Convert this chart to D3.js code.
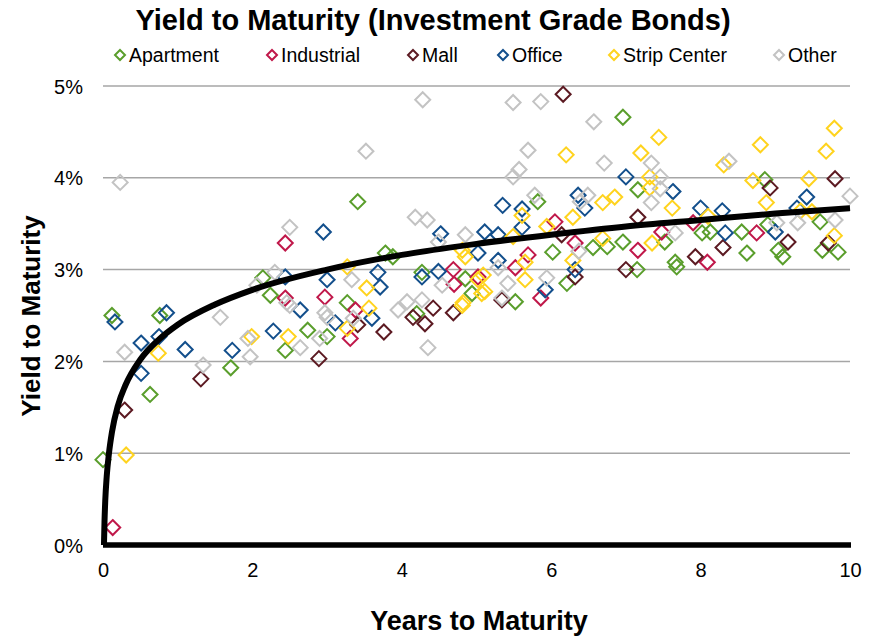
<!DOCTYPE html>
<meta charset="utf-8">
<style>
  body { margin: 0; background: #fff; }
  text { font-family: "Liberation Sans", Arial, sans-serif; fill: #000; }
  .grid line { stroke: #a6a6a6; stroke-width: 1.5px; }
  .dot { fill: none; stroke-width: 2px; }
</style>
<body>
<svg width="877" height="639"></svg>
<script src="https://d3js.org/d3.v7.min.js"></script>
<script>
// values: [years, yield %]
var apartment = [[0.0,0.93],[0.12,2.50],[0.63,1.64],[0.76,2.50],[1.71,1.93],[2.14,2.91],[2.24,2.72],[2.44,2.12],
  [2.74,2.34],[3.0,2.27],[3.27,2.64],[3.41,3.74],[3.78,3.18],[3.88,3.14],[4.2,2.52],[4.27,2.97],[4.85,2.9],[4.94,2.74],
  [5.52,2.65],[5.82,3.74],[6.02,3.19],[6.21,2.85],[6.56,3.24],[6.75,3.25],[6.96,4.66],[6.96,3.30],[7.15,3.0],[7.16,3.87],
  [7.52,3.30],[7.66,3.08],[7.68,3.03],[8.02,3.40],[8.13,3.41],[8.55,3.41],[8.62,3.18],[8.86,3.98],[8.9,3.49],[9.04,3.21],
  [9.1,3.14],[9.6,3.52],[9.63,3.21],[9.84,3.19]];
var industrial = [[0.13,0.19],[2.44,3.29],[2.44,2.69],[2.97,2.70],[3.31,2.25],[3.38,2.56],[4.69,3.0],[4.70,2.84],
  [5.02,2.92],[5.52,3.02],[5.69,3.16],[5.86,2.69],[6.05,3.52],[6.32,3.29],[7.16,3.21],[7.48,3.41],[7.9,3.51],[8.09,3.08],[8.75,3.40]];
var mall = [[0.29,1.47],[1.31,1.81],[2.89,2.03],[3.41,2.40],[3.76,2.32],[4.15,2.48],[4.31,2.41],[4.42,2.58],[4.69,2.53],
  [5.34,2.67],[6.14,3.38],[6.16,4.91],[6.32,2.92],[7.0,3.0],[7.16,3.57],[7.93,3.14],[8.3,3.24],[8.93,3.89],[9.17,3.30],
  [9.71,3.29],[9.8,3.99]];
var office = [[0.16,2.43],[0.51,2.20],[0.51,1.87],[0.75,2.27],[0.85,2.53],[1.1,2.13],[1.73,2.12],[2.28,2.33],[2.44,2.92],
  [2.64,2.56],[2.95,3.41],[3.0,2.89],[3.11,2.42],[3.6,2.47],[3.68,2.97],[3.71,2.81],[4.27,2.92],[4.49,2.98],[4.52,3.39],
  [5.02,3.18],[5.11,3.41],[5.29,3.38],[5.29,3.10],[5.35,3.70],[5.61,3.66],[5.61,3.46],[5.92,2.78],[6.32,3.0],[6.36,3.81],
  [6.45,3.67],[7.0,4.01],[7.63,3.85],[8.0,3.67],[8.29,3.64],[8.33,3.40],[9.0,3.41],[9.29,3.67],[9.42,3.79]];
var stripCenter = [[0.31,0.98],[0.74,2.09],[1.99,2.27],[2.48,2.27],[3.27,3.03],[3.27,2.36],[3.53,2.80],[3.56,2.58],
  [4.81,3.21],[4.81,2.61],[4.85,3.14],[4.82,2.64],[5.02,2.89],[5.07,2.74],[5.09,2.94],[5.11,2.76],[5.49,3.36],[5.61,3.59],
  [5.65,3.08],[5.65,2.89],[5.94,3.47],[6.2,4.25],[6.29,3.57],[6.29,3.10],[6.69,3.73],[6.69,3.34],[6.85,3.79],[7.2,4.27],
  [7.32,4.01],[7.32,3.89],[7.35,3.29],[7.44,4.44],[7.62,3.67],[8.1,3.58],[8.31,4.14],[8.7,3.97],[8.8,4.36],[8.88,3.73],
  [9.34,3.64],[9.45,3.99],[9.49,3.63],[9.68,4.29],[9.79,4.54],[9.79,3.37]];
var other = [[0.23,3.95],[0.29,2.10],[1.34,1.96],[1.57,2.48],[1.94,2.25],[1.97,2.05],[2.06,2.83],[2.30,2.97],[2.46,2.64],
  [2.5,3.46],[2.5,2.61],[2.64,2.15],[2.9,2.25],[2.97,2.53],[3.0,2.48],[3.33,2.89],[3.35,2.47],[3.52,4.29],[3.95,2.56],
  [4.07,2.65],[4.18,3.57],[4.27,2.67],[4.28,4.85],[4.34,3.54],[4.35,2.15],[4.49,3.30],[4.54,2.83],[4.85,3.38],[5.29,3.02],
  [5.34,2.69],[5.42,2.85],[5.49,4.82],[5.49,4.01],[5.57,4.09],[5.69,4.30],[5.78,3.81],[5.86,4.83],[5.94,2.91],[6.37,3.20],
  [6.39,3.74],[6.49,3.81],[6.57,4.61],[6.71,4.16],[7.34,4.16],[7.34,3.73],[7.46,4.01],[7.46,3.88],[7.66,3.40],[8.38,4.18],
  [9.02,3.51],[9.3,3.51],[9.8,3.54],[10.0,3.80]];

// trend curve
var trendX = [0.013,0.02,0.03,0.05,0.08,0.12,0.2,0.3,0.5,0.75,1,1.5,2,3,4,5,6,7,8,9,10];
var trendY = [0,0.25,0.48,0.75,1.0,1.23,1.52,1.74,2.02,2.24,2.40,2.62,2.78,3.0,3.16,3.28,3.38,3.47,3.54,3.61,3.67];

var seriesNames = ["Apartment", "Industrial", "Mall", "Office", "Strip Center", "Other"];
var seriesColors = ["#5a9e2c", "#c0184a", "#5c1a22", "#134f8c", "#ffd31e", "#c3c3c3"];
var seriesData = [apartment, industrial, mall, office, stripCenter, other];
var xTicks = [0, 2, 4, 6, 8, 10];
var yTicks = [0, 1, 2, 3, 4, 5];

var svg = d3.select("svg");
var x = d3.scaleLinear().domain([0, 10]).range([103, 850]);
var y = d3.scaleLinear().domain([0, 5]).range([545, 86]);

// gridlines
svg.append("g").attr("class", "grid")
  .selectAll("line").data(yTicks.slice(1)).enter().append("line")
  .attr("x1", x(0)).attr("x2", x(10))
  .attr("y1", function(d) { return y(d); }).attr("y2", function(d) { return y(d); });

// axes (labels only)
var yAxis = d3.axisLeft(y).tickValues(yTicks).tickSize(0).tickPadding(20)
  .tickFormat(function(d) { return d + "%"; });
var yg = svg.append("g").attr("transform", "translate(103,0)").call(yAxis);
yg.select(".domain").remove();
yg.selectAll("text").style("font-size", "20px").attr("dy", "0.35em");

var xAxis = d3.axisBottom(x).tickValues(xTicks).tickSize(0).tickPadding(18);
var xg = svg.append("g").attr("transform", "translate(0,545)").call(xAxis);
xg.select(".domain").remove();
xg.selectAll("text").style("font-size", "20px");

var diamond = "M0,-7.5L7.5,0L0,7.5L-7.5,0Z";

seriesData.forEach(function(data, i) {
  svg.append("g").selectAll("path").data(data).enter().append("path")
    .attr("class", "dot")
    .attr("d", diamond)
    .attr("stroke", seriesColors[i])
    .attr("transform", function(d) { return "translate(" + x(d[0]) + "," + y(d[1]) + ")"; });
});

// thick baseline and trend curve
svg.append("line")
  .attr("x1", x(0)).attr("x2", x(10) + 1).attr("y1", y(0)).attr("y2", y(0))
  .attr("stroke", "#000").attr("stroke-width", 5.5);

var line = d3.line()
  .x(function(d) { return x(d[0]); })
  .y(function(d) { return y(d[1]); })
  .curve(d3.curveMonotoneX);
svg.append("path")
  .datum(d3.zip(trendX, trendY))
  .attr("d", line)
  .attr("fill", "none").attr("stroke", "#000").attr("stroke-width", 6);

// title, axis titles
svg.append("text").attr("x", 433).attr("y", 30).attr("text-anchor", "middle")
  .style("font-size", "29px").style("font-weight", "bold")
  .text("Yield to Maturity (Investment Grade Bonds)");
svg.append("text").attr("x", 479).attr("y", 630).attr("text-anchor", "middle")
  .style("font-size", "27px").style("font-weight", "bold")
  .text("Years to Maturity");
svg.append("text").attr("transform", "translate(40,316) rotate(-90)").attr("text-anchor", "middle")
  .style("font-size", "26px").style("font-weight", "bold")
  .text("Yield to Maturity");

// legend
var legendX = [120, 272, 413, 503, 614, 779];
var leg = svg.append("g").selectAll("g").data(seriesNames).enter().append("g")
  .attr("transform", function(d, i) { return "translate(" + legendX[i] + ",55)"; });
leg.append("path").attr("d", "M0,-5L5,0L0,5L-5,0Z")
  .attr("fill", "none").attr("stroke-width", 2)
  .attr("stroke", function(d, i) { return seriesColors[i]; });
leg.append("text").attr("x", 9).attr("dy", "0.35em")
  .style("font-size", "19.5px").text(function(d) { return d; });
</script>
</body>
